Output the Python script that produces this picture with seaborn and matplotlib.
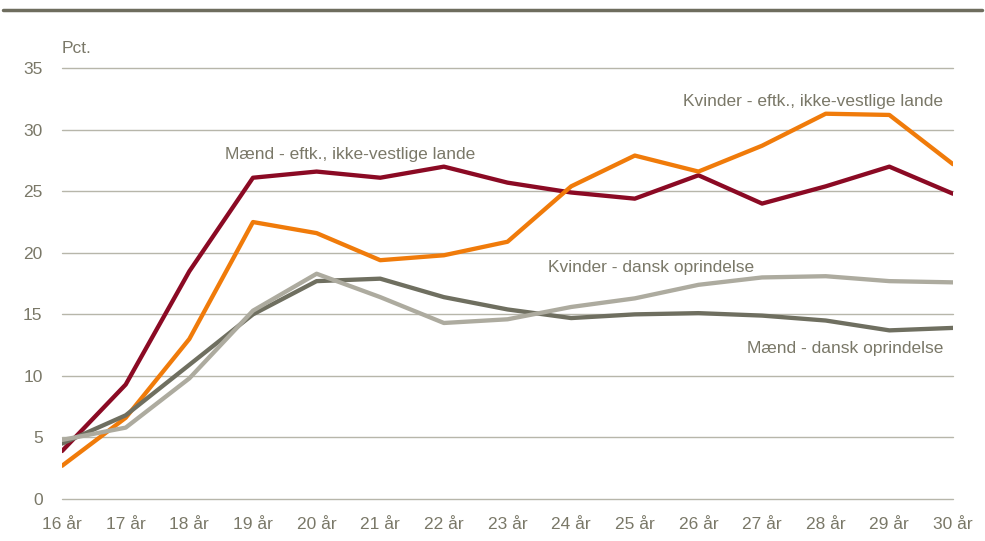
import pandas as pd
import matplotlib.pyplot as plt
import seaborn as sns
from matplotlib import font_manager

alder = list(range(16, 31))
alder_labels = [f'{a} år' for a in alder]

maend_ikkevestlig = [3.9, 9.3, 18.5, 26.1, 26.6, 26.1, 27.0, 25.7, 24.9, 24.4, 26.3, 24.0, 25.4, 27.0, 24.8]
kvinder_ikkevestlig = [2.7, 6.6, 13.0, 22.5, 21.6, 19.4, 19.8, 20.9, 25.4, 27.9, 26.6, 28.7, 31.3, 31.2, 27.2]
maend_dansk = [4.5, 6.8, 10.9, 15.0, 17.7, 17.9, 16.4, 15.4, 14.7, 15.0, 15.1, 14.9, 14.5, 13.7, 13.9]
kvinder_dansk = [4.8, 5.8, 9.8, 15.3, 18.3, 16.4, 14.3, 14.6, 15.6, 16.3, 17.4, 18.0, 18.1, 17.7, 17.6]

serier = {
    'Mænd - eftk., ikke-vestlige lande': maend_ikkevestlig,
    'Kvinder - eftk., ikke-vestlige lande': kvinder_ikkevestlig,
    'Mænd - dansk oprindelse': maend_dansk,
    'Kvinder - dansk oprindelse': kvinder_dansk,
}
farver = ['#8b0a24', '#f07b0a', '#6f6f60', '#adab9f']

rows = []
for navn, vals in serier.items():
    for a, v in zip(alder, vals):
        rows.append({'alder': a, 'pct': v, 'gruppe': navn})
tabela = pd.DataFrame(rows)

sns.set_style('white')

# smal skrift hvis den findes, ellers almindelig lidt mindre
try:
    font_manager.findfont('Liberation Sans Narrow', fallback_to_default=False)
    plt.rcParams['font.family'] = ['Liberation Sans Narrow', 'DejaVu Sans']
    fs = 14
except Exception:
    plt.rcParams['font.family'] = ['Liberation Sans', 'DejaVu Sans']
    fs = 12.5
tekst = '#7a7868'

fig = plt.figure(figsize=(9.85, 5.41), dpi=100)
ax = fig.add_axes([0.063, 0.0776, 0.9045, 0.7964])

sns.lineplot(data=tabela, x='alder', y='pct', hue='gruppe', palette=farver,
             linewidth=3.1, legend=False, ax=ax)

ax.set_xlim(16, 30)
ax.set_ylim(0, 35)
ax.set_yticks(range(0, 36, 5))
ax.set_xticks(alder)
ax.set_xticklabels(alder_labels)
ax.yaxis.grid(True, color='#b7b6aa', linewidth=1)
for gl in ax.get_ygridlines():
    gl.set_clip_on(False)
ax.set_axisbelow(True)
for s in ax.spines.values():
    s.set_visible(False)
ax.tick_params(axis='both', length=0, labelsize=fs, labelcolor=tekst)
ax.tick_params(axis='y', pad=14)
ax.tick_params(axis='x', pad=13)
ax.set_xlabel('')
ax.set_ylabel('')

fig.text(0.063, 0.91, 'Pct.', fontsize=fs, color=tekst, va='center', ha='left')

# etiketter
ax.text(18.56, 28.0, 'Mænd - eftk., ikke-vestlige lande', fontsize=fs, color=tekst, va='center')
ax.text(29.85, 32.3, 'Kvinder - eftk., ikke-vestlige lande', fontsize=fs, color=tekst, va='center', ha='right')
ax.text(23.64, 18.8, 'Kvinder - dansk oprindelse', fontsize=fs, color=tekst, va='center')
ax.text(29.85, 12.2, 'Mænd - dansk oprindelse', fontsize=fs, color=tekst, va='center', ha='right')

# linje øverst
fig.add_artist(plt.Line2D([0.003, 0.997], [0.981, 0.981], color='#6e6d5e', linewidth=2.5))

plt.savefig('out.png', dpi=100)
